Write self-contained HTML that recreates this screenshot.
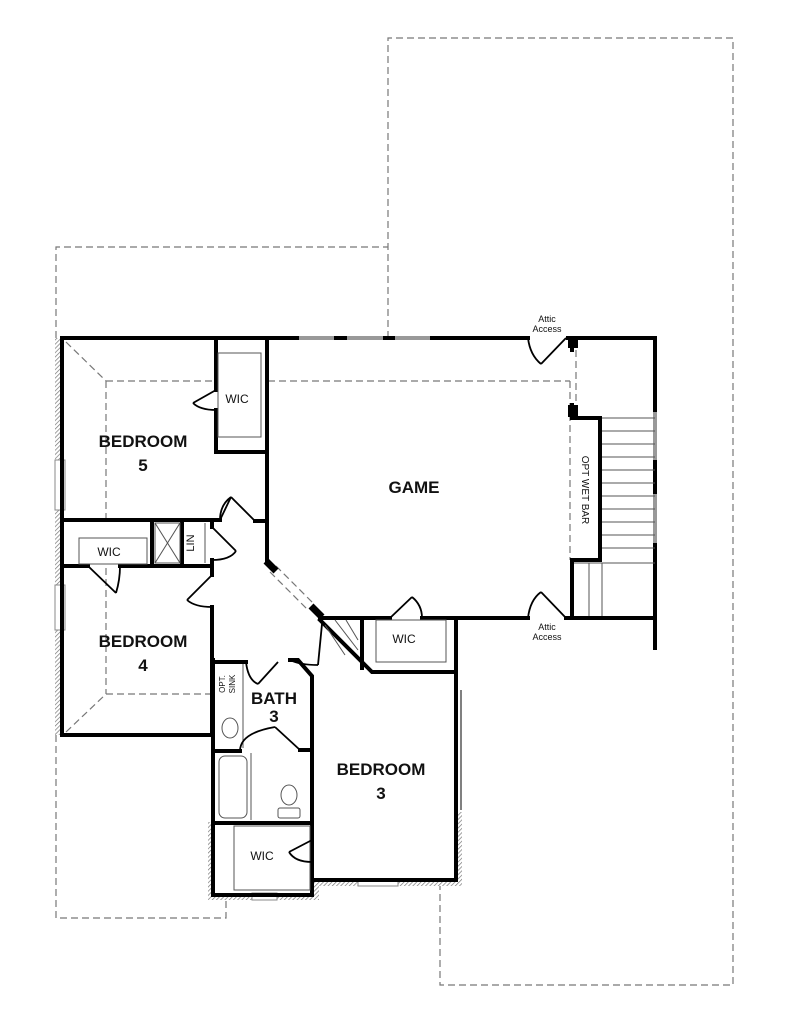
<!DOCTYPE html>
<html><head><meta charset="utf-8"><style>
html,body{margin:0;padding:0;background:#fff;}
svg{display:block;}
text{font-family:"Liberation Sans","DejaVu Sans",sans-serif;fill:#111;}
</style></head><body>
<svg width="788" height="1024" viewBox="0 0 788 1024" xmlns="http://www.w3.org/2000/svg">
<defs>
<pattern id="h" width="3" height="3" patternUnits="userSpaceOnUse" patternTransform="rotate(45)">
<rect width="3" height="3" fill="#fff"/><line x1="0" y1="0" x2="0" y2="3" stroke="#777" stroke-width="1.4"/>
</pattern>
</defs>
<g fill="none" stroke="#777" stroke-width="1.2" stroke-dasharray="7,4">
<polyline points="388,338 388,38 733,38 733,985 440,985 440,885"/>
<polyline points="56,338 56,247 388,247"/>
<polyline points="56,735 56,918 226,918 226,898"/>
<line x1="268" y1="381" x2="570" y2="381"/>
<line x1="576" y1="350" x2="576" y2="405"/>
<line x1="570" y1="381" x2="570" y2="560"/>
<polyline points="106,381 216,381"/>
<line x1="66" y1="342" x2="106" y2="381"/>
<line x1="106" y1="381" x2="106" y2="518"/>
<line x1="106" y1="568" x2="106" y2="694"/>
<line x1="106" y1="694" x2="210" y2="694"/>
<line x1="66" y1="732" x2="106" y2="694"/>
<line x1="276" y1="566" x2="314" y2="604"/>
<line x1="270" y1="572" x2="308" y2="610"/>
</g>
<rect x="55" y="338" width="7" height="397" fill="url(#h)"/>
<rect x="208" y="822" width="6" height="76" fill="url(#h)"/>
<rect x="208" y="893" width="110" height="7" fill="url(#h)"/>
<rect x="312" y="878" width="7" height="22" fill="url(#h)"/>
<rect x="312" y="880" width="150" height="6" fill="url(#h)"/>
<rect x="456" y="812" width="6" height="72" fill="url(#h)"/>
<g fill="#fff" stroke="#888" stroke-width="1">
<rect x="55" y="460" width="10" height="50"/>
<rect x="55" y="585" width="10" height="45"/>
<rect x="252" y="893" width="25" height="7"/>
<rect x="358" y="880" width="40" height="6"/>
</g>
<g stroke="#999" stroke-width="4">
<line x1="297" y1="338" x2="336" y2="338"/>
<line x1="345" y1="338" x2="385" y2="338"/>
<line x1="393" y1="338" x2="432" y2="338"/>
<line x1="655" y1="410" x2="655" y2="462"/>
<line x1="655" y1="492" x2="655" y2="545"/>
</g>
<g fill="none" stroke="#000" stroke-width="4" stroke-linecap="square">
<polyline points="62,338 297,338"/>
<line x1="336" y1="338" x2="345" y2="338"/>
<line x1="385" y1="338" x2="393" y2="338"/>
<polyline points="432,338 528,338"/>
<polyline points="568,338 655,338 655,410"/>
<line x1="655" y1="462" x2="655" y2="492"/>
<line x1="655" y1="545" x2="655" y2="648"/>
<line x1="62" y1="338" x2="62" y2="735"/>
<polyline points="216,338 216,390"/>
<polyline points="216,410 216,452 267,452"/>
<line x1="267" y1="338" x2="267" y2="562"/>
<polyline points="62,520 220,520"/>
<line x1="255" y1="521" x2="267" y2="521"/>
<polyline points="62,566 88,566"/>
<polyline points="120,566 212,566"/>
<line x1="152" y1="520" x2="152" y2="566"/>
<line x1="182" y1="520" x2="182" y2="566"/>
<line x1="212" y1="520" x2="212" y2="527"/>
<line x1="212" y1="560" x2="212" y2="575"/>
<line x1="212" y1="607" x2="212" y2="735"/>
<line x1="62" y1="735" x2="212" y2="735"/>
<polyline points="213,660 213,895 312,895 312,880"/>
<line x1="213" y1="662" x2="246" y2="662"/>
<polyline points="290,660 298,660 312,676 312,895"/>
<line x1="213" y1="751" x2="240" y2="751"/>
<line x1="300" y1="750" x2="312" y2="750"/>
<line x1="213" y1="823" x2="312" y2="823"/>
<polyline points="312,880 456,880 456,618"/>
<polyline points="320,620 372,672 452,672"/>
<line x1="362" y1="618" x2="362" y2="668"/>
<polyline points="320,618 390,618"/>
<line x1="422" y1="618" x2="528" y2="618"/>
<line x1="566" y1="618" x2="655" y2="618"/>
<line x1="572" y1="338" x2="572" y2="350"/>
<polyline points="572,405 572,418 600,418 600,560 572,560 572,618"/>
<line x1="312" y1="830" x2="312" y2="840"/>
</g>
<g stroke="#000" stroke-width="7">
<line x1="266" y1="561" x2="276" y2="571"/>
<line x1="311" y1="606" x2="322" y2="617"/>
</g>
<rect x="568" y="338" width="10" height="10" fill="#000"/>
<rect x="568" y="405" width="10" height="12" fill="#000"/>
<line x1="457" y1="690" x2="457" y2="810" stroke="#000" stroke-width="2"/>
<line x1="461" y1="690" x2="461" y2="810" stroke="#000" stroke-width="1"/>
<g fill="none" stroke="#555" stroke-width="1">
<line x1="602" y1="418" x2="655" y2="418"/>
<line x1="602" y1="431" x2="655" y2="431"/>
<line x1="602" y1="444" x2="655" y2="444"/>
<line x1="602" y1="457" x2="655" y2="457"/>
<line x1="602" y1="470" x2="655" y2="470"/>
<line x1="602" y1="483" x2="655" y2="483"/>
<line x1="602" y1="496" x2="655" y2="496"/>
<line x1="602" y1="509" x2="655" y2="509"/>
<line x1="602" y1="522" x2="655" y2="522"/>
<line x1="602" y1="535" x2="655" y2="535"/>
<line x1="602" y1="548" x2="655" y2="548"/>
<line x1="574" y1="563" x2="655" y2="563"/>
<line x1="589" y1="563" x2="589" y2="616"/>
<line x1="602" y1="563" x2="602" y2="616"/>
<rect x="218" y="353" width="43" height="84"/>
<rect x="79" y="538" width="68" height="26"/>
<rect x="155" y="523" width="25" height="40"/>
<line x1="155" y1="523" x2="180" y2="563"/>
<line x1="180" y1="523" x2="155" y2="563"/>
<line x1="205" y1="523" x2="205" y2="563"/>
<rect x="376" y="620" width="70" height="42"/>
<rect x="234" y="826" width="76" height="64"/>
<line x1="243" y1="664" x2="243" y2="748"/>
<ellipse cx="230" cy="728" rx="8" ry="10"/>
<rect x="219" y="756" width="28" height="62" rx="6"/>
<line x1="251" y1="753" x2="251" y2="820"/>
<ellipse cx="289" cy="795" rx="8" ry="10"/>
<rect x="278" y="808" width="22" height="10" rx="2"/>
<line x1="325" y1="625" x2="345" y2="655"/>
<line x1="335" y1="620" x2="358" y2="650"/>
<line x1="346" y1="620" x2="358" y2="640"/>
</g>
<g fill="none" stroke="#000" stroke-width="1.8">
<line x1="216" y1="390" x2="193" y2="403"/><path d="M193,403 Q200,410 216,410"/>
<line x1="220" y1="520" x2="231" y2="497"/><line x1="231" y1="497" x2="255" y2="521"/><path d="M220,520 Q220,505 231,497"/>
<line x1="212" y1="527" x2="236" y2="551"/><path d="M236,551 Q230,560 212,560"/>
<line x1="88" y1="566" x2="116" y2="593"/><path d="M116,593 Q120,580 120,566"/>
<line x1="212" y1="575" x2="187" y2="600"/><path d="M187,600 Q195,607 212,607"/>
<line x1="322" y1="624" x2="318" y2="665"/><path d="M318,665 Q300,665 290,660"/>
<path d="M246,662 Q248,680 258,684"/><line x1="258" y1="684" x2="278" y2="662"/>
<path d="M240,751 Q240,733 275,727"/><line x1="275" y1="727" x2="300" y2="750"/>
<line x1="312" y1="840" x2="289" y2="852"/><path d="M289,852 Q295,862 312,862"/>
<line x1="390" y1="618" x2="412" y2="597"/><path d="M412,597 Q422,605 422,618"/>
<line x1="566" y1="338" x2="541" y2="364"/><path d="M541,364 Q530,355 528,338"/>
<line x1="566" y1="618" x2="541" y2="592"/><path d="M541,592 Q530,600 528,618"/>
</g>
<g text-anchor="middle" font-size="17" font-weight="bold">
<text x="143" y="447">BEDROOM</text><text x="143" y="471">5</text>
<text x="414" y="493">GAME</text>
<text x="143" y="647">BEDROOM</text><text x="143" y="671">4</text>
<text x="274" y="704">BATH</text><text x="274" y="722">3</text>
<text x="381" y="775">BEDROOM</text><text x="381" y="799">3</text>
</g>
<g text-anchor="middle" font-size="12">
<text x="237" y="403">WIC</text>
<text x="109" y="556">WIC</text>
<text x="404" y="643">WIC</text>
<text x="262" y="860">WIC</text>
<text font-size="11" transform="translate(194,543) rotate(-90)">LIN</text>
<text font-size="8" transform="translate(225,684) rotate(-90)">OPT.</text>
<text font-size="8" transform="translate(235,684) rotate(-90)">SINK</text>
<text font-size="10" transform="translate(582,490) rotate(90)">OPT WET BAR</text>
</g>
<g text-anchor="middle" font-size="9" fill="#333">
<text x="547" y="322">Attic</text><text x="547" y="332">Access</text>
<text x="547" y="630">Attic</text><text x="547" y="640">Access</text>
</g>
</svg>
</body></html>
